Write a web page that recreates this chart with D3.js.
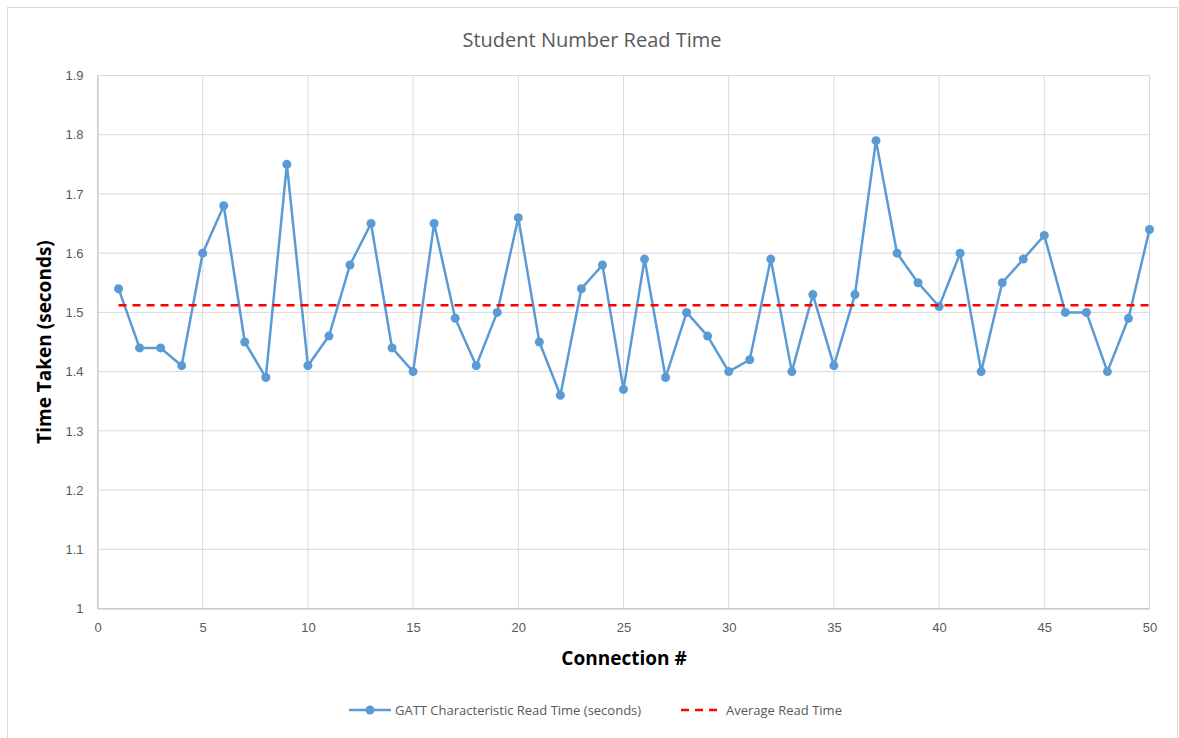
<!DOCTYPE html>
<html>
<head>
<meta charset="utf-8">
<script src="https://cdn.jsdelivr.net/npm/d3@7"></script>
<style>
  body { margin: 0; background: #fff; }
  svg { display: block; font-family: "Open Sans", "Liberation Sans", sans-serif; }
  .grid line { stroke: #d9d9d9; stroke-width: 1; }
  .tick text { fill: #595959; font-size: 13px; }
  .title { fill: #595959; font-size: 20px; }
  .axis-title { fill: #000; font-size: 19px; font-weight: bold; }
  .legend-label { fill: #595959; font-size: 13px; }
</style>
</head>
<body>
<div id="chart"></div>
<script>
  // connection number vs. read time (seconds)
  const connections = d3.range(1, 51);
  const readTimes = [
    1.54, 1.44, 1.44, 1.41, 1.60, 1.68, 1.45, 1.39, 1.75, 1.41,
    1.46, 1.58, 1.65, 1.44, 1.40, 1.65, 1.49, 1.41, 1.50, 1.66,
    1.45, 1.36, 1.54, 1.58, 1.37, 1.59, 1.39, 1.50, 1.46, 1.40,
    1.42, 1.59, 1.40, 1.53, 1.41, 1.53, 1.79, 1.60, 1.55, 1.51,
    1.60, 1.40, 1.55, 1.59, 1.63, 1.50, 1.50, 1.40, 1.49, 1.64
  ];
  const averageTime = [1.512, 1.512];
  const averageSpan = [1, 50];
  const xTicks = [0, 5, 10, 15, 20, 25, 30, 35, 40, 45, 50];
  const yTicks = [1, 1.1, 1.2, 1.3, 1.4, 1.5, 1.6, 1.7, 1.8, 1.9];

  const W = 1179, H = 738;
  const m = { left: 97.5, right: 1149.5, top: 75.5, bottom: 608.5 };

  const svg = d3.select("#chart").append("svg")
    .attr("width", W).attr("height", H);

  // outer chart border
  svg.append("rect")
    .attr("x", 7.5).attr("y", 7.5).attr("width", 1170).attr("height", 740)
    .attr("fill", "#fff").attr("stroke", "#d9d9d9");

  const x = d3.scaleLinear().domain([0, 50]).range([m.left, m.right]);
  const y = d3.scaleLinear().domain([1, 1.9]).range([m.bottom, m.top]);

  svg.append("text").attr("class", "title")
    .attr("x", 592).attr("y", 47).attr("text-anchor", "middle")
    .text("Student Number Read Time");

  // gridlines
  const grid = svg.append("g").attr("class", "grid");
  grid.selectAll(".v").data(xTicks).join("line")
    .attr("x1", d => x(d)).attr("x2", d => x(d))
    .attr("y1", m.top).attr("y2", m.bottom);
  grid.selectAll(".h").data(yTicks).join("line")
    .attr("x1", m.left).attr("x2", m.right)
    .attr("y1", d => y(d)).attr("y2", d => y(d));

  // axes
  const xAxis = svg.append("g")
    .attr("transform", `translate(0,${m.bottom})`)
    .call(d3.axisBottom(x).tickValues(xTicks).tickSize(0).tickPadding(14).tickFormat(d3.format("d")));
  xAxis.select(".domain").attr("stroke", "#bfbfbf");

  const yAxis = svg.append("g")
    .attr("transform", `translate(${m.left},0)`)
    .call(d3.axisLeft(y).tickValues(yTicks).tickSize(0).tickPadding(14).tickFormat(d => d3.format("~g")(d)));
  yAxis.select(".domain").attr("stroke", "#bfbfbf");
  svg.selectAll(".tick text").attr("font-family", null).attr("font-size", null);

  svg.append("text").attr("class", "axis-title")
    .attr("x", 624).attr("y", 665).attr("text-anchor", "middle")
    .text("Connection #");
  svg.append("text").attr("class", "axis-title")
    .attr("transform", `translate(51,342) rotate(-90)`)
    .attr("text-anchor", "middle")
    .text("Time Taken (seconds)");

  // series
  const pts = connections.map((c, i) => [c, readTimes[i]]);
  const line = d3.line().x(d => x(d[0])).y(d => y(d[1]));

  svg.append("path").datum(pts)
    .attr("d", line)
    .attr("fill", "none").attr("stroke", "#5b9bd5").attr("stroke-width", 2.5)
    .attr("stroke-linejoin", "round");

  svg.append("g").selectAll("circle").data(pts).join("circle")
    .attr("cx", d => x(d[0])).attr("cy", d => y(d[1])).attr("r", 4.5)
    .attr("fill", "#5b9bd5");

  svg.append("path").datum(averageSpan.map((c, i) => [c, averageTime[i]]))
    .attr("d", line)
    .attr("fill", "none").attr("stroke", "#ff0000").attr("stroke-width", 2.5)
    .attr("stroke-dasharray", "8,6");

  // legend
  const lg = svg.append("g").attr("transform", "translate(0,710)");
  lg.append("line").attr("x1", 349).attr("x2", 391)
    .attr("stroke", "#5b9bd5").attr("stroke-width", 2.5);
  lg.append("circle").attr("cx", 370).attr("r", 4.5).attr("fill", "#5b9bd5");
  lg.append("text").attr("class", "legend-label")
    .attr("x", 395).attr("y", 4.5)
    .text("GATT Characteristic Read Time (seconds)");
  lg.append("line").attr("x1", 681).attr("x2", 719)
    .attr("stroke", "#ff0000").attr("stroke-width", 2.5)
    .attr("stroke-dasharray", "8,6");
  lg.append("text").attr("class", "legend-label")
    .attr("x", 726).attr("y", 4.5)
    .text("Average Read Time");
</script>
</body>
</html>
